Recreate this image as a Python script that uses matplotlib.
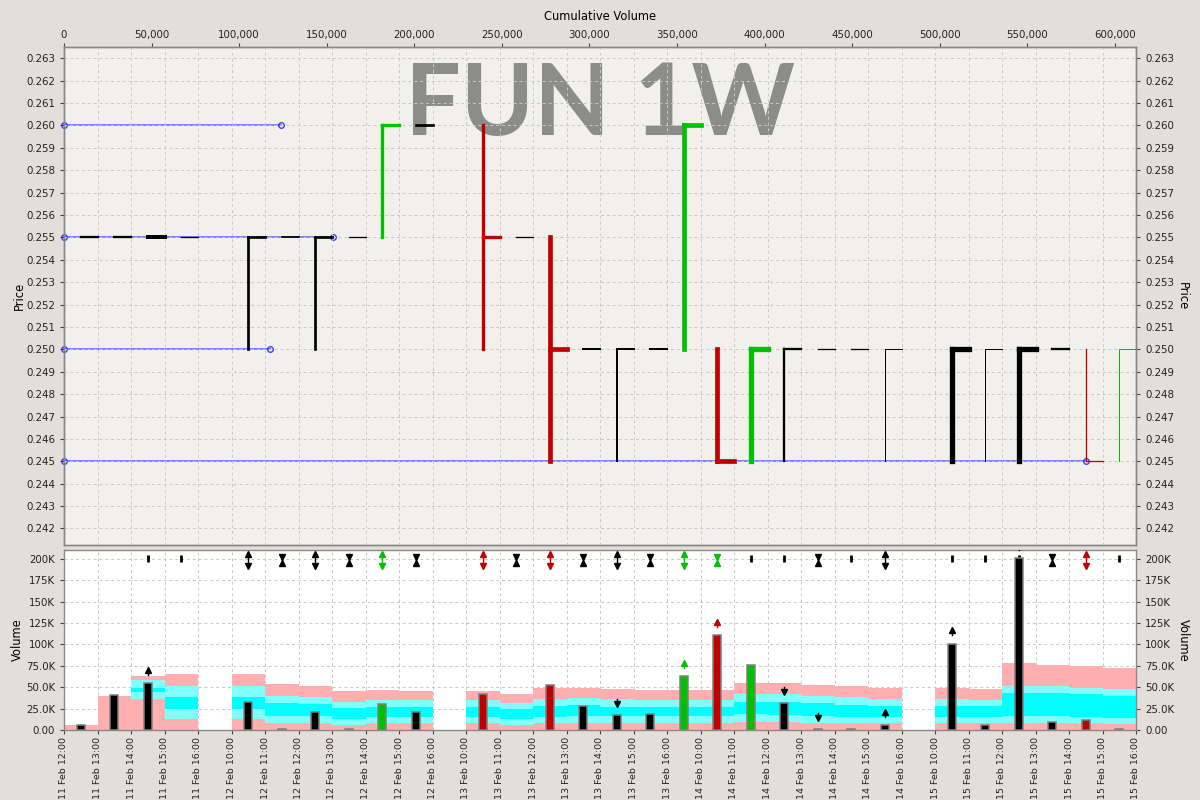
import matplotlib
matplotlib.use("Agg")
import matplotlib.pyplot as plt
from matplotlib.ticker import FixedLocator, FuncFormatter, MultipleLocator

# ---------------- data ----------------
time_labels = (["11 Feb %d:00" % h for h in range(12, 17)] +
               ["12 Feb %d:00" % h for h in range(10, 17)] +
               ["13 Feb %d:00" % h for h in range(10, 17)] +
               ["14 Feb %d:00" % h for h in range(10, 17)] +
               ["15 Feb %d:00" % h for h in range(10, 17)])

# one entry per hourly slot (None = no trading in slot)
price_low = [0.255, 0.255, 0.255, 0.255, None, 0.250, 0.255, 0.250, 0.255, 0.255, 0.260, None,
             0.250, 0.255, 0.245, 0.250, 0.245, 0.250, 0.250, 0.245, 0.245, 0.245, 0.250, 0.250,
             0.245, None, 0.245, 0.245, 0.245, 0.250, 0.245, 0.245]
price_high = [0.255, 0.255, 0.255, 0.255, None, 0.255, 0.255, 0.255, 0.255, 0.260, 0.260, None,
              0.260, 0.255, 0.255, 0.250, 0.250, 0.250, 0.260, 0.250, 0.250, 0.250, 0.250, 0.250,
              0.250, None, 0.250, 0.250, 0.250, 0.250, 0.250, 0.250]
price_close = [0.255, 0.255, 0.255, 0.255, None, 0.255, 0.255, 0.255, 0.255, 0.260, 0.260, None,
               0.255, 0.255, 0.250, 0.250, 0.250, 0.250, 0.260, 0.245, 0.250, 0.250, 0.250, 0.250,
               0.250, None, 0.250, 0.250, 0.250, 0.250, 0.245, 0.250]
volume = [5500, 40600, 54600, 0, None, 32400, 1000, 20700, 1000, 30000, 20700, None,
          41700, 0, 52200, 27700, 17200, 18300, 62800, 110700, 75600, 31200, 1000, 1000,
          5500, None, 101000, 5500, 200800, 9000, 11300, 1000]

# volume distribution bands per slot: [pink top, light-cyan top, cyan top, light-cyan top, pink top]
bands = [
    [5500, 5500, 5500, 5500, 5500],
    [40200, 40200, 40200, 40200, 40200],
    [35900, 44800, 49500, 58500, 63200],
    [12500, 24600, 39000, 51000, 65000],
    None,
    [12500, 24600, 39000, 51000, 65000],
    [8600, 16400, 32000, 39800, 54200],
    [8600, 16400, 30000, 38200, 51500],
    [6200, 12900, 26100, 32700, 45200],
    [7800, 14800, 27300, 34700, 46800],
    [7800, 14800, 27000, 34700, 46000],
    None,
    [7800, 14800, 27000, 34700, 45600],
    [6200, 12500, 24600, 31200, 42500],
    [7800, 15200, 28500, 36300, 49500],
    [7800, 16000, 28900, 37400, 49500],
    [7800, 16400, 27300, 35900, 47600],
    [7800, 16400, 27300, 35000, 46400],
    [7800, 16400, 27300, 35000, 46400],
    [7800, 16400, 27300, 35000, 46400],
    [9700, 18700, 32400, 42100, 55400],
    [9000, 17900, 32700, 42100, 55400],
    [7800, 16400, 31200, 40200, 53000],
    [7800, 15600, 29600, 38200, 51000],
    [7800, 15200, 28500, 36300, 49500],
    None,
    [7800, 15200, 28500, 36300, 49500],
    [7800, 14800, 27700, 35000, 47600],
    [8600, 16800, 43700, 51900, 78400],
    [8600, 16800, 42900, 51900, 76400],
    [7800, 15600, 41700, 49500, 74900],
    [7400, 14400, 40200, 47600, 72500],
]

# signal markers in the top row of the volume panel
signal_kind = [None, None, "I", "I", None, "ud", "hg", "ud", "hg", "ud", "hg", None,
               "ud", "hg", "ud", "hg", "ud", "hg", "ud", "hg", "I", "I", "hg", "I",
               "ud", None, "I", "I", "I", "hg", "ud", "I"]
signal_color = ["k", "k", "k", "k", "k", "k", "k", "k", "k", "g", "k", "k",
                "r", "k", "r", "k", "k", "k", "g", "g", "k", "k", "k", "k",
                "k", "k", "k", "k", "k", "k", "r", "k"]
# small arrows above volume bars
bar_arrow = [None, None, "up", None, None, None, None, None, None, None, None, None,
             None, None, None, None, "down", None, "up", "up", None, "down", "down", None,
             "up", None, "up", None, "up", None, None, None]
bar_arrow_color = ["k"] * 18 + ["g", "r"] + ["k"] * 12

# volume-at-price lines (cumulative volume axis)
vap_price = [0.260, 0.255, 0.250, 0.245]
vap_volume = [124000, 153500, 117500, 583400]

cum_vol_ticks = list(range(0, 600001, 50000))

# ---------------- style ----------------
FIG_BG = "#E3DED8"
PRICE_BG = "#F1F0EC"
GREEN = "#00C000"
RED = "#C00000"
BLACK = "#000000"
PINK = "#FFAFAF"
LCYAN = "#80FFFF"
CYAN = "#00FFFF"
GRID = "#C8C8C8"
SPINE = "#888888"
cmap = {"k": BLACK, "g": GREEN, "r": RED}
lw_px = [2.3, 2.3, 4, 1.3, 0, 2.7, 1.7, 2.7, 1.3, 3.3, 2.7, 0, 3.3, 1.3, 4.7, 2, 2, 2, 4.7,
         4.7, 5.3, 2.3, 1.3, 1.3, 1, 0, 5.3, 1, 5.3, 2.3, 1.3, 1]

plt.rcParams["font.family"] = ["DejaVu Sans"]
fig = plt.figure(figsize=(12, 8), dpi=100, facecolor=FIG_BG)

L, R = 64 / 1200, 1136 / 1200
axp = fig.add_axes([L, 1 - 545 / 800, R - L, (545 - 47) / 800])
axv = fig.add_axes([L, 1 - 730 / 800, R - L, (730 - 550) / 800], sharex=axp)
axt = axp.twiny()
# twin (cumulative volume) below the price marks
axt.set_zorder(0)
axp.set_zorder(1)
axp.patch.set_visible(False)
axt.patch.set_visible(True)
axt.patch.set_facecolor(PRICE_BG)

nslot = len(price_close)
axp.set_xlim(0, nslot)
axp.set_ylim(0.241263, 0.26350)
axt.set_xlim(0, 612000)
axv.set_ylim(0, 210500)
axv.set_facecolor("white")

# ---- price bars ----
prev = None
for i in range(nslot):
    c = price_close[i]
    if c is None:
        continue
    if prev is None or c == prev:
        col = BLACK
    elif c > prev:
        col = GREEN
    else:
        col = RED
    prev = c
    x = i + 0.5
    w = lw_px[i] * 0.72
    if price_high[i] > price_low[i]:
        axp.plot([x, x], [price_low[i], price_high[i]], color=col, lw=w,
                 solid_capstyle="projecting", zorder=3)
    axp.plot([x, x + 0.5], [c, c], color=col, lw=w, solid_capstyle="projecting", zorder=3)

# ---- volume-at-price lines ----
for p, v in zip(vap_price, vap_volume):
    axt.plot([0, v], [p, p], color="#6060FF", lw=1.3, alpha=0.85, zorder=2,
             marker="o", ms=4, mfc="none", mec="#2020FF", mew=1.0, clip_on=False)

# watermark
axt.text(0.5, 0.823, "FUN 1W", transform=axt.transAxes, ha="center", va="baseline",
         fontsize=71, fontweight="bold", family=["Lato", "DejaVu Sans"],
         color="#8C8C8A", zorder=1)

# ---- volume panel ----
band_colors = [PINK, LCYAN, CYAN, LCYAN, PINK]
for i in range(nslot):
    b = bands[i]
    if b is None:
        continue
    bottom = 0
    for top, bc in zip(b, band_colors):
        if top > bottom:
            axv.bar(i, top - bottom, bottom=bottom, width=1.0, align="edge",
                    color=bc, lw=0, zorder=1)
        bottom = top

prev = None
for i in range(nslot):
    c = price_close[i]
    if c is None:
        continue
    if prev is None or c == prev:
        col = BLACK
    elif c > prev:
        col = GREEN
    else:
        col = RED
    prev = c
    if volume[i]:
        axv.bar(i + 0.5, volume[i], width=0.25, color=col, edgecolor="#808080",
                lw=1.1, zorder=4)

# top-row signal markers
for i in range(nslot):
    k = signal_kind[i]
    if k is None:
        continue
    col = cmap[signal_color[i]]
    x = i + 0.5
    if k == "I":
        axv.plot([x, x], [196600, 204800], color=col, lw=2.0, zorder=3, solid_capstyle="butt")
    elif k == "ud":
        axv.plot([x, x], [190000, 208000], color=col, lw=1.0, zorder=3)
        axv.plot([x], [206000], marker="^", ms=5, color=col, zorder=3, clip_on=False)
        axv.plot([x], [191800], marker="v", ms=5, color=col, zorder=3)
    elif k == "hg":
        axv.plot([x, x], [195000, 203000], color=col, lw=1.0, zorder=3)
        axv.plot([x], [202200], marker="v", ms=5, color=col, zorder=3)
        axv.plot([x], [195600], marker="^", ms=5, color=col, zorder=3)

# arrows above bars
for i in range(nslot):
    a = bar_arrow[i]
    if a is None or volume[i] is None:
        continue
    col = cmap[bar_arrow_color[i]]
    x = i + 0.5
    y = volume[i] + 14500
    if a == "up":
        axv.plot([x, x], [y, y - 4500], color=col, lw=1.0, zorder=3)
        axv.plot([x], [y + 1200], marker="^", ms=5, color=col, zorder=3)
    else:
        axv.plot([x, x], [y, y + 4500], color=col, lw=1.0, zorder=3)
        axv.plot([x], [y - 1200], marker="v", ms=5, color=col, zorder=3)

# ---------------- axes cosmetics ----------------
TICK_FS = 7.4
LABEL_FS = 8.3
for ax in (axp, axv, axt):
    for s in ax.spines.values():
        s.set_color(SPINE)
        s.set_linewidth(1.0)
    ax.tick_params(colors="#444444", labelcolor="#222222", labelsize=TICK_FS, length=3,
                   width=0.8)

# grid
axp.xaxis.set_major_locator(FixedLocator(range(nslot + 1)))
axp.yaxis.set_major_locator(MultipleLocator(0.001))
axp.yaxis.set_major_formatter(FuncFormatter(lambda v, p: "%.3f" % v))
axp.grid(True, color=GRID, lw=0.7, ls=(0, (3, 3)), zorder=0)
axp.tick_params(axis="x", bottom=False, labelbottom=False, top=False, labeltop=False)
axp.tick_params(axis="y", left=True, right=True, labelleft=True, labelright=True)
axp.set_ylabel("Price", fontsize=LABEL_FS)
axp.yaxis.set_label_coords(-0.036, 0.5)
axp.text(1.043, 0.5, "Price", transform=axp.transAxes, rotation=270, ha="center",
         va="center", fontsize=LABEL_FS)

axt.xaxis.set_major_locator(FixedLocator(cum_vol_ticks))
axt.xaxis.set_major_formatter(FuncFormatter(lambda v, p: "{:,}".format(int(v))))
axt.set_xlabel("Cumulative Volume", fontsize=LABEL_FS, labelpad=7)
axt.tick_params(axis="y", left=False, right=False, labelleft=False, labelright=False)
axt.tick_params(axis="x", pad=2)

axv.xaxis.set_major_locator(FixedLocator(range(nslot + 1)))
axv.set_xticklabels(time_labels, rotation=90, fontsize=6.8)
axv.tick_params(axis="x", pad=2)
axv.yaxis.set_major_locator(MultipleLocator(25000))


def vfmt(v, p):
    if v == 0:
        return "0.00"
    if v >= 100000:
        return "%dK" % round(v / 1000)
    return "%.1fK" % (v / 1000)


axv.yaxis.set_major_formatter(FuncFormatter(vfmt))
axv.grid(True, color=GRID, lw=0.7, ls=(0, (3, 3)), zorder=0)
axv.set_axisbelow(True)
axv.tick_params(axis="y", left=True, right=True, labelleft=True, labelright=True)
axv.set_ylabel("Volume", fontsize=LABEL_FS)
axv.yaxis.set_label_coords(-0.037, 0.5)
axv.text(1.044, 0.5, "Volume", transform=axv.transAxes, rotation=270, ha="center",
         va="center", fontsize=LABEL_FS)

fig.savefig("out.png", dpi=100, facecolor=FIG_BG)
